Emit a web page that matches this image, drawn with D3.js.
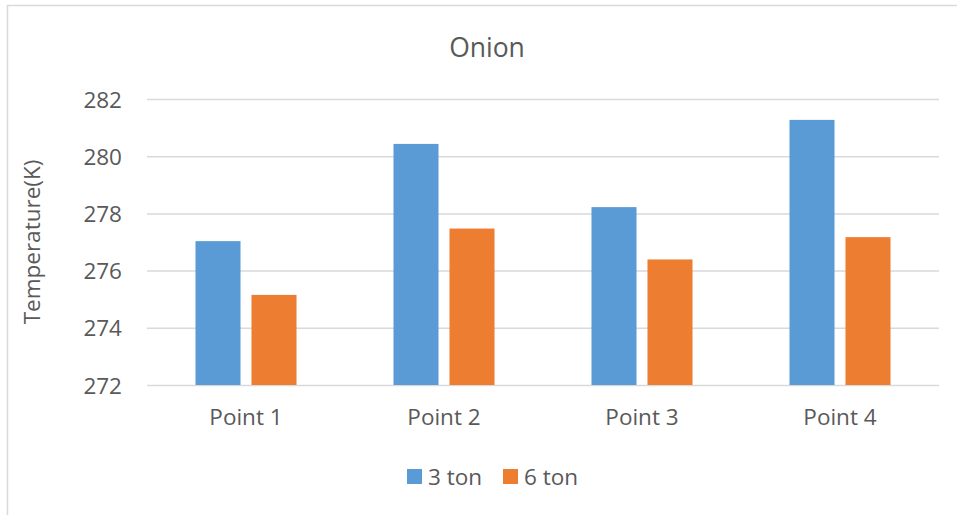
<!DOCTYPE html>
<html>
<head>
<meta charset="utf-8">
<script src="https://cdn.jsdelivr.net/npm/d3@7"></script>
<style>
  html, body { margin: 0; padding: 0; background: #fff; }
  svg { display: block; }
  text { font-family: "Open Sans", sans-serif; fill: #595959; }
</style>
</head>
<body>
<svg id="chart" width="957" height="515"></svg>
<script>
const categories = ["Point 1", "Point 2", "Point 3", "Point 4"];
const seriesNames = ["3 ton", "6 ton"];
const values3ton = [277.03, 280.43, 278.22, 281.27];
const values6ton = [275.15, 277.47, 276.39, 277.17];
const yTicks = [272, 274, 276, 278, 280, 282];
const colors = ["#5B9BD5", "#ED7D31"];

const seriesValues = [values3ton, values6ton];
const svg = d3.select("#chart");

// chart border
svg.append("rect")
  .attr("x", 7.5).attr("y", 5.5)
  .attr("width", 1000).attr("height", 600)
  .attr("fill", "none").attr("stroke", "#d9d9d9").attr("stroke-width", 1.5);

const plotLeft = 147, plotRight = 939, plotTop = 99, plotBottom = 385;

const x = d3.scaleBand().domain(categories).range([plotLeft, plotRight]).paddingInner(0).paddingOuter(0);
const xInner = d3.scaleBand().domain(seriesNames).range([0, x.bandwidth()]).paddingInner(0.196).paddingOuter(0.866);
const y = d3.scaleLinear().domain([272, 282]).range([plotBottom, plotTop]);

// gridlines
const yAxis = d3.axisLeft(y).tickValues(yTicks).tickSize(-(plotRight - plotLeft)).tickFormat(d3.format("d")).tickPadding(25);
const gy = svg.append("g").attr("transform", `translate(${plotLeft},0)`).call(yAxis);
gy.select(".domain").remove();
gy.selectAll(".tick line").attr("stroke", "#d9d9d9").attr("stroke-width", 1.5);
gy.selectAll(".tick text").attr("font-size", 22.5).attr("fill", "#595959").attr("font-family", "Open Sans").attr("dy", "0.36em");

// bars
const groups = svg.append("g").selectAll("g")
  .data(categories).join("g")
  .attr("transform", d => `translate(${x(d)},0)`);

groups.selectAll("rect")
  .data((d, i) => seriesNames.map((s, j) => ({ s, v: seriesValues[j][i], c: colors[j] })))
  .join("rect")
  .attr("x", d => xInner(d.s))
  .attr("width", xInner.bandwidth())
  .attr("y", d => y(d.v))
  .attr("height", d => y(272) - y(d.v))
  .attr("fill", d => d.c);

// x axis labels
const xAxis = d3.axisBottom(x).tickSize(0).tickPadding(24);
const gx = svg.append("g").attr("transform", `translate(0,${plotBottom})`).call(xAxis);
gx.select(".domain").remove();
gx.selectAll(".tick text").attr("font-size", 22.5).attr("fill", "#595959").attr("font-family", "Open Sans");

// title
svg.append("text")
  .attr("x", 487).attr("y", 57)
  .attr("text-anchor", "middle")
  .attr("font-size", 26.5)
  .text("Onion");

// y axis title
svg.append("text")
  .attr("transform", `translate(40,${(plotTop + plotBottom) / 2}) rotate(-90)`)
  .attr("text-anchor", "middle")
  .attr("font-size", 22.5)
  .text("Temperature(K)");

// legend
const legendItems = [{ name: seriesNames[0], c: colors[0], x: 407 }, { name: seriesNames[1], c: colors[1], x: 503 }];
const lg = svg.append("g");
legendItems.forEach(it => {
  lg.append("rect").attr("x", it.x).attr("y", 469).attr("width", 15).attr("height", 15).attr("fill", it.c);
  lg.append("text").attr("x", it.x + 21).attr("y", 485).attr("font-size", 22.5).text(it.name);
});
</script>
</body>
</html>
